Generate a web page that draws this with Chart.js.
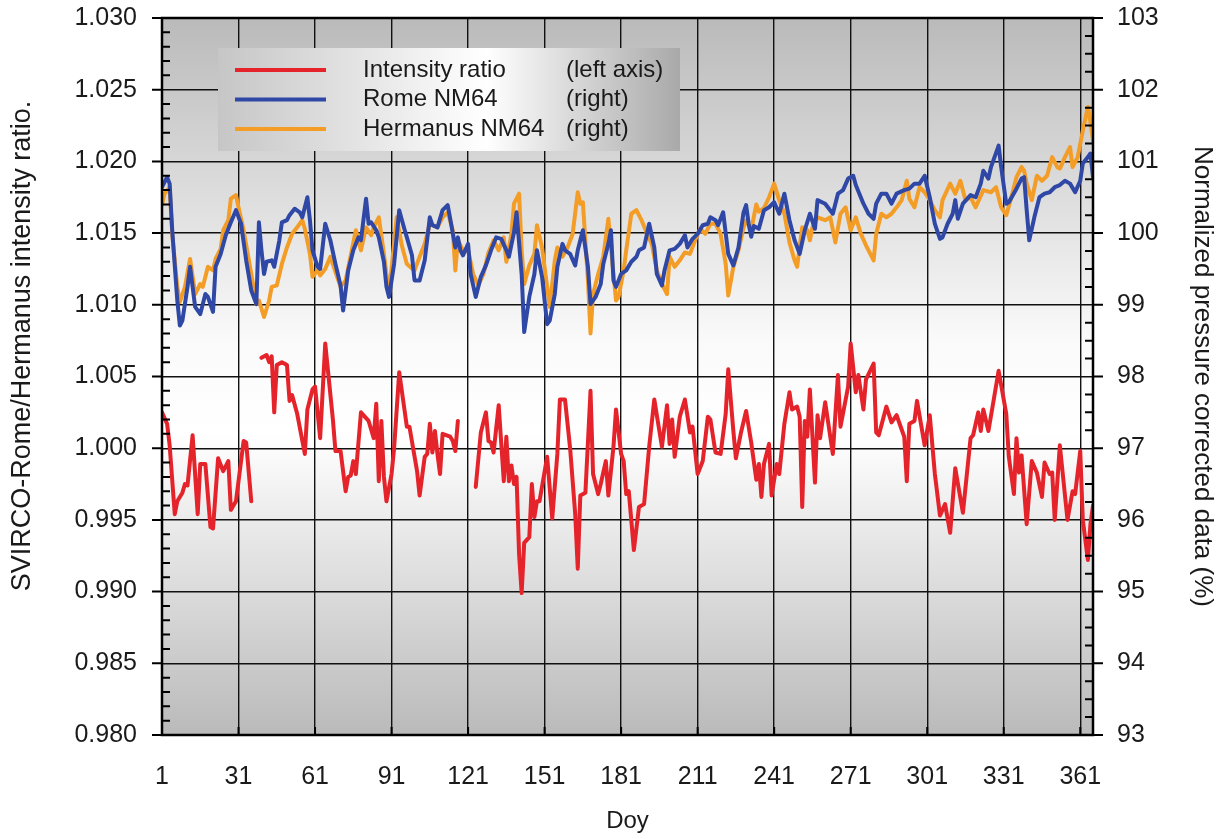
<!DOCTYPE html>
<html>
<head>
    <title>SVIRCO-Rome/Hermanus intensity ratio</title>
    <style>
        body { margin: 0; background: #fff; }
        canvas { display: block; }
    </style>
</head>
<body>
    <canvas id="ratioChart" width="1227" height="839"></canvas>
    <script src="https://cdn.jsdelivr.net/npm/chart.js"></script>
    <script>
        // x ticks (day of year)
        const dayTicks = [1, 31, 61, 91, 121, 151, 181, 211, 241, 271, 301, 331, 361];

        // Intensity ratio (left axis), null = gap in the record
        const ratioDays = [1, 3, 4, 6, 7, 9, 10, 11, 13, 15, 16, 18, 20, 21, 23, 25, 27, 28, 30, 33, 34, 36, 38,
            40, 42, 43, 44, 45, 46, 48, 50, 51, 52, 54, 57, 58, 60, 61, 63, 65, 68, 69, 71, 73, 74, 75, 76, 77, 79,
            82, 84, 85, 86, 87, 88, 89, 91, 92, 94, 97, 98, 101, 102, 104, 105, 106, 107, 108, 109, 110, 111, 114,
            115, 116, 117, 120,
            124, 126, 128, 129, 130, 131, 133, 135, 136, 137, 138, 139, 140, 141, 142, 143, 145, 146, 147, 148, 149,
            152, 154, 156, 157, 159, 161, 163, 164, 165, 167, 169, 170, 172, 173, 175, 176, 178, 179, 181, 182, 183,
            184, 186, 188, 190, 192, 194, 197, 199, 200, 201, 202, 204, 206, 208, 209, 211, 213, 215, 216, 218, 220,
            222, 223, 225, 226, 228, 230, 232, 234, 235, 236, 237, 239, 240, 242, 243, 245, 247, 248, 250, 251, 252,
            253, 254, 255, 257, 258, 259, 261, 264, 266, 267, 270, 271, 273, 274, 276, 277, 280, 281, 282, 285, 287,
            289, 292, 293, 294, 296, 297, 300, 302, 304, 306, 308, 310, 312, 315, 318, 319, 321, 322, 323, 325, 329,
            332, 333, 335, 336, 337, 338, 340, 342, 344, 346, 347, 349, 350, 351, 353, 356, 358, 359, 361, 362, 364,
            365, 366];
        const ratioValues = [1.0025, 1.0017, 1.0002, 0.9954, 0.9963, 0.9969, 0.9975, 0.9974, 1.0009, 0.9954, 0.9989,
            0.9989, 0.9945, 0.9944, 0.9993, 0.9984, 0.9991, 0.9957, 0.9963, 1.0005, 1.0004, 0.9963, null,
            1.0063, 1.0065, 1.0060, 1.0064, 1.0025, 1.0058, 1.0060, 1.0058, 1.0033, 1.0037, 1.0024, 0.9996, 1.0027,
            1.0041, 1.0043, 1.0007, 1.0073, 1.0020, 0.9998, 0.9998, 0.9970, 0.9980, 0.9981, 0.9991, 0.9982, 1.0025,
            1.0019, 1.0007, 1.0031, 0.9977, 1.0019, 0.9980, 0.9963, 0.9982, 1.0000, 1.0053, 1.0015, 1.0015, 0.9984,
            0.9967, 0.9994, 0.9996, 1.0017, 0.9997, 1.0012, 0.9996, 0.9982, 1.0010, 1.0008, 1.0005, 0.9998, 1.0019,
            null,
            0.9973, 1.0011, 1.0025, 1.0005, 1.0004, 0.9997, 1.0030, 0.9977, 1.0008, 0.9977, 0.9988, 0.9975, 0.9980,
            0.9926, 0.9899, 0.9934, 0.9938, 0.9975, 0.9952, 0.9963, 0.9963, 0.9994, 0.9951, 0.9996, 1.0034, 1.0034,
            1.0000, 0.9954, 0.9916, 0.9967, 0.9969, 1.0040, 0.9982, 0.9968, 0.9975, 0.9991, 0.9967, 1.0001, 1.0027,
            0.9996, 0.9991, 0.9968, 0.9970, 0.9929, 0.9959, 0.9961, 1.0001, 1.0034, 1.0001, 1.0030, 1.0003, 1.0020,
            0.9994, 1.0022, 1.0034, 1.0011, 1.0015, 0.9982, 0.9991, 1.0022, 1.0020, 0.9997, 0.9996, 1.0024, 1.0055,
            1.0012, 0.9993, 1.0011, 1.0026, 1.0004, 0.9978, 0.9989, 0.9966, 0.9989, 1.0003, 0.9967, 0.9989, 0.9982,
            1.0017, 1.0039, 1.0027, 1.0029, 1.0022, 0.9959, 1.0019, 1.0008, 1.0041, 0.9976, 1.0023, 1.0007, 1.0032,
            0.9996, 1.0051, 1.0015, 1.0043, 1.0073, 1.0039, 1.0051, 1.0027, 1.0048, 1.0059, 1.0011, 1.0009, 1.0029,
            1.0018, 1.0023, 1.0008, 0.9977, 1.0017, 1.0019, 1.0033, 1.0002, 1.0023, 0.9982, 0.9953, 0.9961, 0.9941,
            0.9986, 0.9955, 1.0007, 1.0009, 1.0025, 1.0012, 1.0027, 1.0012, 1.0054, 1.0024, 0.9994, 0.9968, 1.0007,
            0.9983, 0.9995, 0.9947, 0.9991, 0.9983, 0.9966, 0.9990, 0.9982, 0.9983, 0.9950, 1.0002, 0.9950, 0.9970,
            0.9968, 0.9998, 0.9950, 0.9922, 0.9947, 0.9960];

        // Rome NM64, normalized % (right axis)
        const romeDays = [1, 3, 4, 5, 7, 8, 9, 11, 12, 14, 16, 18, 19, 21, 22, 24, 26, 28, 30, 32, 34, 36, 38, 39, 40,
            41, 42, 44, 45, 47, 48, 50, 51, 53, 55, 56, 58, 59, 60, 62, 63, 65, 67, 69, 71, 72, 74, 76, 78, 79, 81, 82,
            83, 85, 86, 88, 89, 90, 92, 94, 96, 97, 99, 100, 102, 104, 106, 107, 109, 111, 113, 114, 116, 117, 118,
            119, 121, 122, 124, 126, 128, 130, 132, 134, 136, 137, 139, 140, 142, 143, 145, 147, 148, 150, 152, 153,
            155, 156, 158, 159, 161, 163, 164, 166, 168, 169, 171, 173, 174, 176, 177, 178, 179, 181, 183, 185, 187,
            188, 190, 192, 194, 195, 197, 198, 200, 202, 204, 206, 207, 209, 211, 213, 215, 216, 218, 219, 221, 223,
            225, 227, 229, 230, 231, 232, 233, 235, 237, 239, 241, 243, 245, 247, 249, 251, 253, 255, 257, 258, 261,
            264, 266, 268, 270, 272, 273, 276, 278, 280, 281, 283, 285, 287, 289, 292, 294, 296, 298, 300, 302, 304,
            306, 307, 309, 311, 312, 313, 315, 318, 320, 322, 323, 325, 326, 329, 330, 332, 333, 336, 338, 339, 340,
            341, 343, 345, 347, 349, 351, 353, 355, 357, 359, 361, 362, 364, 365, 366];
        const romeValues = [100.64, 100.78, 100.69, 100.04, 99.06, 98.71, 98.78, 99.25, 99.53, 98.97, 98.87, 99.15,
            99.11, 98.90, 99.53, 99.71, 99.97, 100.15, 100.32, 100.13, 99.62, 99.20, 99.01, 100.15, 99.76, 99.43,
            99.60, 99.62, 99.53, 99.90, 100.15, 100.18, 100.25, 100.34, 100.29, 100.22, 100.50, 100.18, 99.76, 99.53,
            99.50, 100.13, 99.90, 99.57, 99.27, 98.92, 99.48, 99.76, 99.94, 99.90, 100.48, 100.13, 100.15, 100.04,
            99.94, 99.60, 99.25, 99.11, 99.57, 100.32, 100.06, 99.94, 99.69, 99.34, 99.34, 99.62, 100.22, 100.11,
            100.08, 100.32, 100.39, 100.20, 99.80, 99.94, 99.76, 99.69, 99.85, 99.43, 99.11, 99.39, 99.55, 99.76,
            99.94, 99.92, 99.76, 99.67, 100.01, 100.29, 99.43, 98.62, 99.11, 99.43, 99.76, 99.39, 98.73, 98.78, 99.15,
            99.53, 99.85, 99.76, 99.71, 99.55, 99.76, 100.04, 99.53, 99.01, 99.11, 99.29, 99.57, 99.85, 100.04, 99.34,
            99.25, 99.43, 99.48, 99.60, 99.67, 99.76, 99.80, 100.13, 99.80, 99.43, 99.27, 99.48, 99.76, 99.78, 99.85,
            99.97, 99.80, 99.92, 99.99, 100.11, 100.13, 100.22, 100.18, 100.11, 100.29, 99.71, 99.55, 99.80, 100.29,
            100.39, 100.13, 99.95, 100.10, 100.06, 100.32, 100.36, 100.43, 100.27, 100.55, 100.18, 99.90, 99.71,
            100.04, 100.27, 100.06, 100.46, 100.41, 100.27, 100.55, 100.60, 100.76, 100.80, 100.67, 100.41, 100.27,
            100.20, 100.41, 100.55, 100.55, 100.41, 100.55, 100.60, 100.62, 100.69, 100.69, 100.80, 100.50, 100.13,
            99.92, 99.94, 100.13, 100.27, 100.46, 100.20, 100.41, 100.53, 100.50, 100.69, 100.87, 100.76, 100.92,
            101.22, 100.92, 100.41, 100.43, 100.62, 100.76, 100.78, 100.32, 99.90, 100.22, 100.50, 100.55, 100.57,
            100.64, 100.67, 100.73, 100.69, 100.57, 100.73, 100.97, 101.06, 101.11, 100.78];

        // Hermanus NM64, normalized % (right axis)
        const hermDays = [1, 2, 4, 5, 7, 8, 10, 12, 14, 16, 17, 19, 21, 22, 24, 25, 27, 28, 30, 31, 33, 36, 38, 39, 41,
            43, 44, 46, 48, 50, 52, 54, 56, 57, 59, 60, 62, 63, 65, 67, 69, 71, 73, 75, 77, 79, 81, 83, 84, 86, 88, 89,
            90, 93, 95, 97, 100, 102, 104, 106, 109, 111, 113, 115, 116, 117, 119, 121, 123, 125, 127, 129, 131, 133,
            135, 136, 138, 139, 141, 142, 143, 145, 147, 148, 150, 152, 153, 155, 156, 158, 160, 162, 164, 165, 166,
            168, 169, 170, 172, 174, 176, 177, 179, 180, 182, 183, 185, 187, 189, 191, 193, 195, 197, 199, 200, 202,
            204, 206, 208, 210, 212, 214, 216, 218, 220, 222, 223, 225, 227, 229, 230, 232, 234, 235, 237, 239, 241,
            243, 245, 247, 249, 250, 252, 254, 255, 256, 258, 261, 263, 265, 267, 269, 271, 273, 275, 277, 278, 280,
            281, 283, 285, 287, 289, 291, 293, 294, 296, 298, 300, 302, 304, 306, 307, 310, 312, 314, 316, 318, 320,
            323, 326, 328, 330, 332, 334, 336, 338, 339, 340, 342, 344, 346, 348, 350, 352, 353, 355, 357, 358, 360,
            362, 364, 365, 366];
        const hermValues = [100.39, 100.55, 100.64, 99.99, 99.25, 99.04, 99.25, 99.64, 99.15, 99.29, 99.25, 99.53,
            99.48, 99.64, 99.78, 100.04, 100.18, 100.48, 100.53, 100.36, 100.04, 99.43, 99.01, 99.06, 98.83, 99.06,
            99.25, 99.27, 99.57, 99.80, 99.99, 100.08, 100.18, 100.06, 99.71, 99.39, 99.48, 99.41, 99.50, 99.67, 99.46,
            99.25, 99.34, 99.69, 100.04, 99.76, 100.08, 99.97, 100.08, 100.22, 99.71, 99.43, 99.15, 100.22, 99.83,
            99.57, 99.48, 99.67, 99.85, 100.13, 100.08, 100.22, 100.29, 100.04, 99.48, 99.90, 99.76, 99.76, 99.43,
            99.27, 99.43, 99.73, 99.90, 99.76, 99.94, 99.60, 99.99, 100.41, 100.55, 99.76, 99.29, 99.55, 99.71, 100.11,
            99.80, 99.25, 98.97, 99.62, 99.80, 99.67, 99.80, 99.99, 100.57, 100.41, 100.43, 99.34, 98.60, 99.15, 99.43,
            99.67, 100.20, 99.80, 99.06, 99.11, 99.48, 99.76, 100.27, 100.32, 100.18, 100.01, 99.85, 99.48, 99.29,
            99.15, 99.67, 99.53, 99.62, 99.73, 99.71, 99.90, 100.06, 99.99, 100.13, 100.13, 99.99, 99.57, 99.13, 99.53,
            99.76, 100.08, 100.18, 100.04, 100.40, 100.30, 100.35, 100.50, 100.69, 100.46, 100.27, 99.87, 99.62, 99.53,
            100.08, 100.04, 99.90, 100.08, 100.22, 100.18, 100.22, 99.87, 100.27, 100.36, 100.04, 100.22, 99.99, 99.83,
            99.76, 99.62, 99.99, 100.27, 100.22, 100.27, 100.36, 100.46, 100.73, 100.48, 100.36, 100.64, 100.57,
            100.46, 100.32, 100.22, 100.46, 100.69, 100.55, 100.73, 100.46, 100.50, 100.36, 100.60, 100.57, 100.64,
            100.36, 100.25, 100.50, 100.78, 100.92, 100.87, 100.69, 100.46, 100.80, 100.73, 100.80, 101.06, 100.92,
            100.90, 101.06, 101.20, 100.92, 101.06, 101.43, 101.76, 101.55, 101.29];

        const legendNotes = ['(left axis)', '(right)', '(right)'];

        const toPoints = (days, vals) => days.map((d, i) => ({ x: d, y: vals[i] }));
        const FONT = 'Liberation Sans, Arial, sans-serif';
        const INK = '#1a1a1a';

        // grey-white-grey plot background, box legend, minor ticks, frame, left title
        const decorPlugin = {
            id: 'decor',
            beforeDraw(chart) {
                const { ctx, chartArea: a } = chart;
                const g = ctx.createLinearGradient(0, a.top, 0, a.bottom);
                g.addColorStop(0, '#bababa');
                g.addColorStop(0.45, '#fafafa');
                g.addColorStop(0.58, '#ffffff');
                g.addColorStop(1, '#bababa');
                ctx.save();
                ctx.fillStyle = g;
                ctx.fillRect(a.left, a.top, a.right - a.left, a.bottom - a.top);
                ctx.restore();
            },
            afterDatasetsDraw(chart) {
                const { ctx, chartArea: a } = chart;
                const yL = chart.scales.y, yR = chart.scales.y2, x = chart.scales.x;
                ctx.save();

                // legend box
                const bx = 218, by = 48, bw = 462, bh = 103;
                const lg = ctx.createLinearGradient(bx, 0, bx + bw, 0);
                lg.addColorStop(0, '#c6c6c6');
                lg.addColorStop(0.58, '#ffffff');
                lg.addColorStop(1, '#a9a9a9');
                ctx.fillStyle = lg;
                ctx.fillRect(bx, by, bw, bh);
                ctx.font = '24px ' + FONT;
                ctx.textBaseline = 'middle';
                chart.data.datasets.forEach((ds, i) => {
                    const ly = 70 + i * 29.5;
                    ctx.strokeStyle = ds.borderColor;
                    ctx.lineWidth = 4;
                    ctx.beginPath();
                    ctx.moveTo(235, ly);
                    ctx.lineTo(326, ly);
                    ctx.stroke();
                    ctx.fillStyle = INK;
                    ctx.fillText(ds.label, 363, ly);
                    ctx.fillText(legendNotes[i], 566, ly);
                });

                // ticks
                ctx.strokeStyle = '#000';
                ctx.lineWidth = 2;
                ctx.beginPath();
                for (let i = 0; i <= 50; i++) {
                    const py = yL.getPixelForValue(0.98 + i * 0.001);
                    if (i % 5 === 0) { ctx.moveTo(a.left - 10, py); ctx.lineTo(a.left, py); }
                    else { ctx.moveTo(a.left, py); ctx.lineTo(a.left + 8, py); }
                }
                for (let i = 0; i <= 40; i++) {
                    const py = yR.getPixelForValue(93 + i * 0.25);
                    if (i % 4 === 0) { ctx.moveTo(a.right, py); ctx.lineTo(a.right + 10, py); }
                    else { ctx.moveTo(a.right, py); ctx.lineTo(a.right - 8, py); }
                }
                dayTicks.forEach(d => {
                    const px = x.getPixelForValue(d);
                    ctx.moveTo(px, a.bottom);
                    ctx.lineTo(px, a.bottom - 8);
                });
                ctx.stroke();

                // frame
                ctx.lineWidth = 2.5;
                ctx.strokeRect(a.left, a.top, a.right - a.left, a.bottom - a.top);

                // left axis title (sits a little above the middle of the axis)
                ctx.translate(23, 346);
                ctx.rotate(-Math.PI / 2);
                ctx.font = '27px ' + FONT;
                ctx.fillStyle = INK;
                ctx.textAlign = 'center';
                ctx.textBaseline = 'middle';
                ctx.fillText('SVIRCO-Rome/Hermanus intensity ratio.', 0, 0);
                ctx.restore();
            }
        };

        const tickFont = { family: FONT, size: 25 };
        const noPad = s => { s.paddingTop = 0; s.paddingBottom = 0; };
        const lineStyle = { borderWidth: 4, pointRadius: 0, borderJoinStyle: 'round', borderCapStyle: 'round' };

        new Chart(document.getElementById('ratioChart'), {
            type: 'line',
            data: {
                datasets: [
                    {
                        label: 'Intensity ratio',
                        data: toPoints(ratioDays, ratioValues),
                        yAxisID: 'y',
                        borderColor: '#e4232a',
                        spanGaps: false,
                        ...lineStyle
                    },
                    {
                        label: 'Rome NM64',
                        data: toPoints(romeDays, romeValues),
                        yAxisID: 'y2',
                        borderColor: '#2f48a6',
                        ...lineStyle
                    },
                    {
                        label: 'Hermanus NM64',
                        data: toPoints(hermDays, hermValues),
                        yAxisID: 'y2',
                        borderColor: '#f39c26',
                        ...lineStyle
                    }
                ]
            },
            options: {
                responsive: false,
                animation: false,
                layout: { padding: { top: 18 } },
                plugins: { legend: { display: false }, tooltip: { enabled: false } },
                scales: {
                    x: {
                        type: 'linear',
                        min: 1,
                        max: 366,
                        afterBuildTicks: s => { s.ticks = dayTicks.map(v => ({ value: v })); },
                        afterFit: s => { s.height = 104; s.paddingLeft = 0; s.paddingRight = 0; },
                        grid: { color: '#111', lineWidth: 1.4, drawTicks: false },
                        border: { display: false },
                        ticks: { font: tickFont, color: INK, padding: 27, maxRotation: 0, autoSkip: false },
                        title: { display: true, text: 'Doy', font: { family: FONT, size: 24 }, color: INK, padding: { bottom: 3 } }
                    },
                    y: {
                        position: 'left',
                        min: 0.98,
                        max: 1.03,
                        afterBuildTicks: s => {
                            s.ticks = Array.from({ length: 11 }, (_, i) => ({ value: 0.98 + i * 0.005 }));
                        },
                        afterFit: s => { s.width = 162; noPad(s); },
                        grid: { color: '#111', lineWidth: 1.4, drawTicks: false },
                        border: { display: false },
                        ticks: { font: tickFont, color: INK, padding: 25, callback: v => v.toFixed(3) }
                    },
                    y2: {
                        position: 'right',
                        min: 93,
                        max: 103,
                        afterBuildTicks: s => {
                            s.ticks = Array.from({ length: 11 }, (_, i) => ({ value: 93 + i }));
                        },
                        afterFit: s => { s.width = 134; noPad(s); },
                        grid: { display: false, drawTicks: false },
                        border: { display: false },
                        ticks: { font: tickFont, color: INK, padding: 24 },
                        title: {
                            display: true, text: 'Normalized pressure corrected data (%)',
                            font: { family: FONT, size: 26 }, color: INK, padding: { top: 9 }
                        }
                    }
                }
            },
            plugins: [decorPlugin]
        });
    </script>
</body>
</html>
